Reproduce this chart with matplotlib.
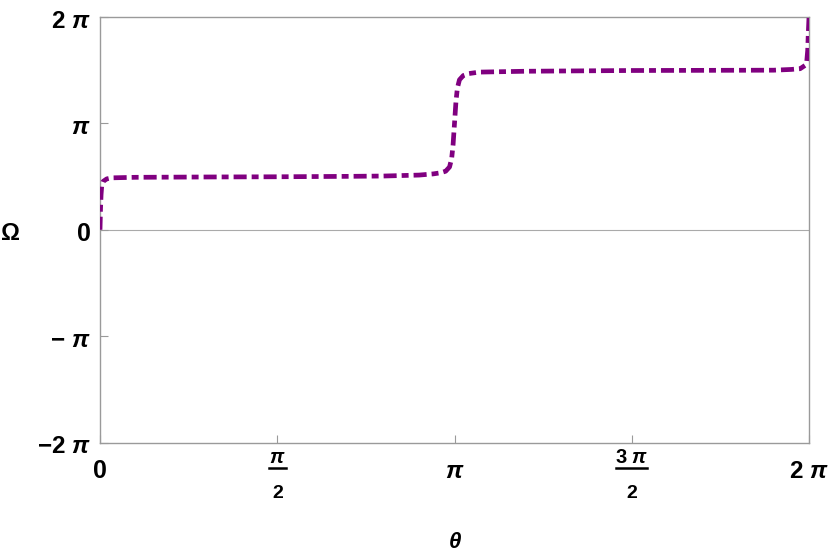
import numpy as np
import matplotlib
matplotlib.use("Agg")
import matplotlib.pyplot as plt
from matplotlib.lines import Line2D
from matplotlib.transforms import IdentityTransform

plt.rcParams['font.family'] = ['Liberation Sans', 'DejaVu Sans']
plt.rcParams['font.weight'] = 'bold'
plt.rcParams['mathtext.fontset'] = 'custom'
plt.rcParams['mathtext.rm'] = 'Liberation Sans:bold'
plt.rcParams['mathtext.bf'] = 'Liberation Sans:bold'
plt.rcParams['mathtext.it'] = 'Liberation Sans:italic:bold'
plt.rcParams['lines.scale_dashes'] = False

# curve, both in multiples of pi
theta_pi = [0.0, 0.0015, 0.003, 0.005, 0.009, 0.019, 0.033, 0.1, 0.3, 0.5,
            0.7, 0.8, 0.9, 0.94, 0.96, 0.975, 0.986, 0.992, 0.996, 1.0,
            1.004, 1.008, 1.014, 1.025, 1.04, 1.07, 1.2, 1.5, 1.9, 1.95,
            1.975, 1.989, 1.9935, 1.9963, 1.998, 2.0]
omega_pi = [0.0, 0.2, 0.33, 0.42, 0.455, 0.478, 0.488, 0.493, 0.496, 0.498,
            0.502, 0.505, 0.514, 0.525, 0.535, 0.55, 0.59, 0.67, 0.80, 1.0,
            1.2, 1.33, 1.41, 1.45, 1.468, 1.482, 1.49, 1.497, 1.5, 1.507,
            1.514, 1.545, 1.576, 1.685, 1.845, 2.0]

x_ticks_pi = [0, 0.5, 1, 1.5, 2]
x_tick_labels = ['0', None, r'$\pi$', None, r'$2\ \pi$']
x_frac_labels = {0.5: (r'$\pi$', '2'), 1.5: (r'$3\;\pi$', '2')}
y_ticks_pi = [-2, -1, 0, 1, 2]
y_tick_labels = [r'$-2\ \pi$', r'$-\ \pi$', '0', r'$\pi$', r'$2\ \pi$']

theta = np.array(theta_pi) * np.pi
omega = np.array(omega_pi) * np.pi

fig = plt.figure(figsize=(8.3, 5.56), dpi=100)
ax = fig.add_axes([100 / 830, 1 - 442.5 / 556, 709 / 830, 425.5 / 556])

gray = '#9a9a9a'
ax.axhline(0, color='#aaaaaa', lw=0.8, zorder=1)
ax.plot(theta, omega, color='#800080', lw=3.4,
        dashes=(9.4, 3.6, 5.0, 3.6), dash_capstyle='butt', zorder=3)

ax.set_xlim(0, 2 * np.pi)
ax.set_ylim(-2 * np.pi, 2 * np.pi)
ax.set_xticks(np.array(x_ticks_pi) * np.pi)
ax.set_yticks(np.array(y_ticks_pi) * np.pi)
ax.tick_params(direction='in', length=6, width=0.8, color=gray,
               labelbottom=False, labelleft=False)
for s in ax.spines.values():
    s.set_color(gray)
    s.set_linewidth(1.0)

# y tick labels
ytr = ax.get_yaxis_transform()
for v, lab in zip(y_ticks_pi, y_tick_labels):
    size = 18 if lab == '0' else 17.5
    ax.annotate(lab, xy=(0, v * np.pi), xycoords=ytr, xytext=(-6.5, -7.8),
                textcoords='offset points', ha='right', va='baseline',
                fontsize=size, fontweight='bold', annotation_clip=False)

# x tick labels
xtr = ax.get_xaxis_transform()
for v, lab in zip(x_ticks_pi, x_tick_labels):
    if lab is None:
        num, den = x_frac_labels[v]
        ax.annotate(num, xy=(v * np.pi, 0), xycoords=xtr, xytext=(0, -15),
                    textcoords='offset points', ha='center', va='baseline',
                    fontsize=14.5, annotation_clip=False)
        ax.annotate(den, xy=(v * np.pi, 0), xycoords=xtr, xytext=(0, -40.2),
                    textcoords='offset points', ha='center', va='baseline',
                    fontsize=14, fontweight='bold', annotation_clip=False)
        px, py = ax.transData.transform((v * np.pi, -2 * np.pi))
        hw = 8.5 if v == 0.5 else 15.5
        fig.add_artist(Line2D([px - hw, px + hw], [py - 25.5, py - 25.5],
                              transform=IdentityTransform(), color='black', lw=1.8))
    else:
        size = 18 if lab == '0' else 17.5
        ax.annotate(lab, xy=(v * np.pi, 0), xycoords=xtr, xytext=(0, -25.8),
                    textcoords='offset points', ha='center', va='baseline',
                    fontsize=size, fontweight='bold', annotation_clip=False)

# axis labels
ax.annotate(r'$\theta$', xy=(0.5, 0), xycoords='axes fraction', xytext=(0, -76),
            textcoords='offset points', ha='center', va='baseline', fontsize=16,
            annotation_clip=False)
ax.annotate(r'$\Omega$', xy=(0, 0), xycoords=ytr, xytext=(-64.8, -7.6),
            textcoords='offset points', ha='center', va='baseline', fontsize=17,
            annotation_clip=False)

fig.savefig('out.png', dpi=100)
